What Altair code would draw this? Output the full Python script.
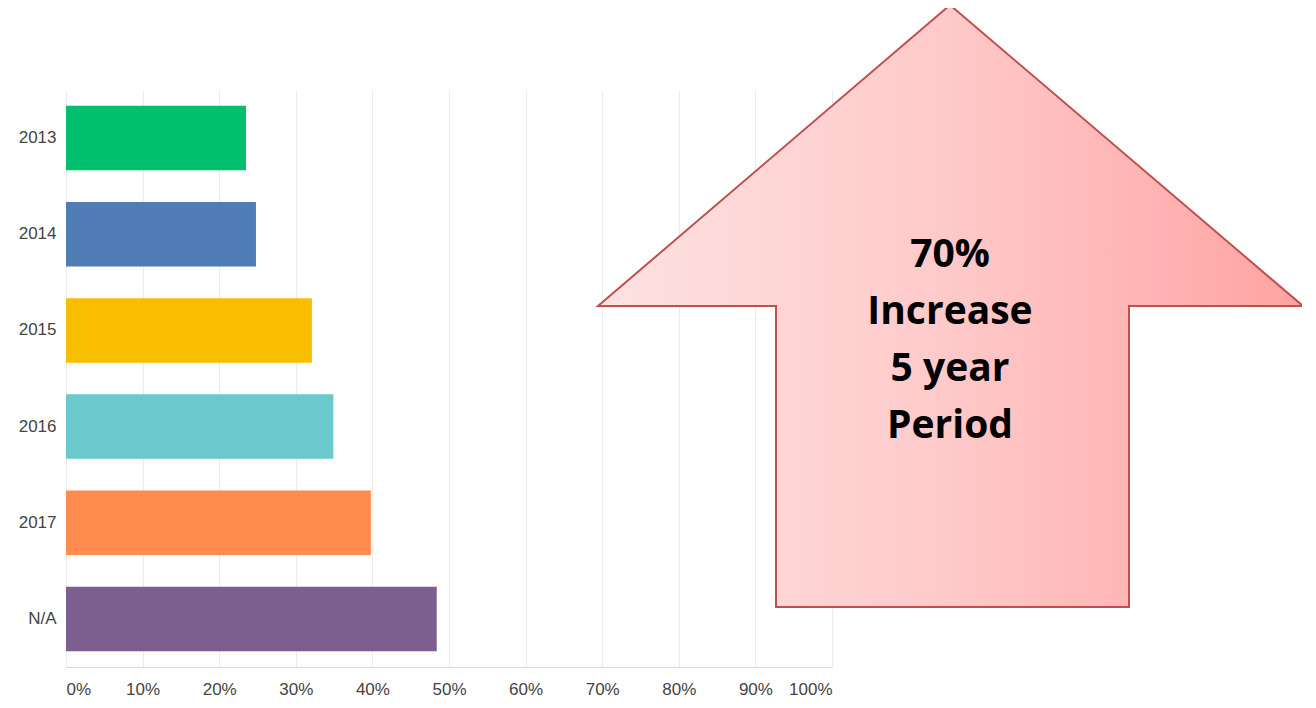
import altair as alt
import pandas as pd

# Bar data
years = ["2013", "2014", "2015", "2016", "2017", "N/A"]
shares = [23.5, 24.8, 32.1, 34.9, 39.8, 48.4]
bar_colors = ["#00bf6f", "#507cb6", "#f9be00", "#6bc8cd", "#ff8b4f", "#7d5e90"]
x_ticks = [0, 10, 20, 30, 40, 50, 60, 70, 80, 90, 100]

# Arrow annotation shape (vertices in plot-pixel units, y downward)
arrow_x = [884, 1237, 1063, 1063, 710, 710, 532, 884]
arrow_y = [-85, 216, 216, 517, 517, 216, 216, -85]
arrow_text = ["70%", "Increase", "5 year ", " Period"]
text_x = [884]
text_y = [165]

W, H = 766, 577

bars_df = pd.DataFrame({"year": years, "share": shares})
arrow_df = pd.DataFrame({"i": list(range(len(arrow_x))), "ax": arrow_x, "ay": arrow_y})
text_df = pd.DataFrame({"tx": text_x, "ty": text_y, "label": ["\n".join(arrow_text)]})

bars = alt.Chart(bars_df).mark_bar().encode(
    x=alt.X(
        "share:Q",
        scale=alt.Scale(domain=[0, 100], nice=False),
        axis=alt.Axis(
            values=x_ticks,
            labelExpr="datum.value + '%'",
            title=None,
            grid=True,
            gridColor="#ebebeb",
            domainColor="#d9d9d9",
            ticks=False,
            tickSize=0,
            labelFlush=True,
            labelPadding=14,
            labelFont="Liberation Sans",
            labelFontSize=17,
            labelColor="#444444",
        ),
    ),
    y=alt.Y(
        "year:N",
        sort=years,
        scale=alt.Scale(paddingInner=0.33, paddingOuter=0.165),
        axis=alt.Axis(
            title=None,
            domain=False,
            ticks=False,
            grid=False,
            labelPadding=10,
            labelFont="Liberation Sans",
            labelFontSize=17,
            labelColor="#444444",
        ),
    ),
    color=alt.Color(
        "year:N",
        scale=alt.Scale(domain=years, range=bar_colors),
        legend=None,
    ),
)

grad = alt.Gradient(
    gradient="linear",
    stops=[
        alt.GradientStop(color="#fde2e2", offset=0),
        alt.GradientStop(color="#ffc9c9", offset=0.5),
        alt.GradientStop(color="#ffa3a3", offset=1),
    ],
    x1=0, x2=1, y1=0, y2=0,
)

ax_scale = alt.Scale(domain=[0, W], nice=False, zero=False)
ay_scale = alt.Scale(domain=[0, H], nice=False, zero=False, reverse=True)

arrow = alt.Chart(arrow_df).mark_line(
    fill=grad, stroke="#c0504d", strokeWidth=2, strokeJoin="miter", clip=False
).encode(
    x=alt.X("ax:Q", scale=ax_scale, axis=None),
    y=alt.Y("ay:Q", scale=ay_scale, axis=None),
    order=alt.Order("i:Q"),
)

label = alt.Chart(text_df).mark_text(
    font="Open Sans",
    fontWeight="bold",
    fontSize=39,
    lineHeight=57,
    lineBreak="\n",
    color="#000000",
    align="center",
    baseline="middle",
).encode(
    x=alt.X("tx:Q", scale=ax_scale, axis=None),
    y=alt.Y("ty:Q", scale=ay_scale, axis=None),
    text="label:N",
)

chart = alt.layer(bars, alt.layer(arrow, label)).resolve_scale(
    x="independent", y="independent", color="independent"
).properties(
    width=W,
    height=H,
    padding={"left": 58, "top": 82, "right": 470, "bottom": 33},
    autosize=alt.AutoSizeParams(type="none"),
).configure_view(stroke=None)

chart.save("out.html", embed_options={"renderer": "svg", "actions": False})
